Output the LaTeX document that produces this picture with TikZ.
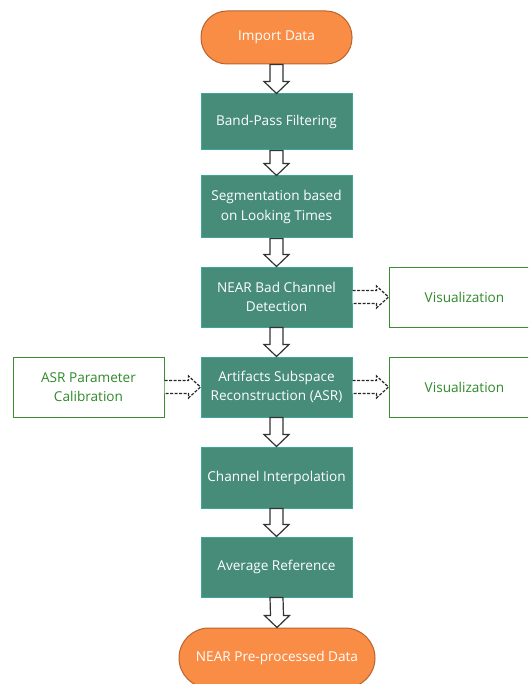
\documentclass[tikz,border=0pt]{standalone}
\usepackage{fontspec}
\setmainfont{Open Sans}
\usetikzlibrary{calc}
\definecolor{tealfill}{HTML}{468C79}
\definecolor{tealedge}{HTML}{3AA89C}
\definecolor{orfill}{HTML}{F98D45}
\definecolor{oredge}{HTML}{B8632E}
\definecolor{gtext}{HTML}{2F8A2A}
\definecolor{gedge}{HTML}{3C8C33}
\tikzset{
  stepbox/.style={draw=tealedge, line width=1pt, fill=tealfill, text=white, minimum width=151pt, minimum height=60pt, align=center, font=\fontsize{13.6}{19.5}\selectfont, inner sep=0pt},
  termbox/.style={draw=oredge, line width=1pt, fill=orfill, text=white, rounded corners=26pt, minimum height=53pt, align=center, font=\fontsize{13.6}{19.5}\selectfont, inner sep=0pt},
  sidebox/.style={draw=gedge, line width=1pt, fill=white, text=gtext, minimum width=151pt, minimum height=60pt, align=center, font=\fontsize{13.6}{19.5}\selectfont, inner sep=0pt},
  blockarrow/.style={draw=black!80, line width=1.2pt, fill=white, line join=miter},
  dasharrow/.style={draw=black!85, line width=1.2pt, fill=white, dashed, dash pattern=on 3pt off 1.5pt, line join=miter},
}
\newcommand\blockdown[2]{%
  \draw[blockarrow] ($(#1.south)+(-6.5,0)$) -- ($(#1.south)+(6.5,0)$) -- ($(#2.north)+(6.5,-12)$) -- ($(#2.north)+(12.5,-12)$) -- (#2.north) -- ($(#2.north)+(-12.5,-12)$) -- ($(#2.north)+(-6.5,-12)$) -- cycle;}
\newcommand\dashright[2]{%
  \draw[dasharrow] ($(#1.east)+(0,-6.5)$) -- ($(#2.west)+(-12,-6.5)$) -- ($(#2.west)+(-12,-11)$) -- (#2.west) -- ($(#2.west)+(-12,11)$) -- ($(#2.west)+(-12,6.5)$) -- ($(#1.east)+(0,6.5)$);}
\begin{document}
\begin{tikzpicture}[x=1pt,y=-1pt]
\useasboundingbox (0,0) rectangle (528,684);
\clip (0,0) rectangle (528,684);
\node[termbox, minimum width=151pt] (imp) at (276.5,37.5) {Import Data};
\node[stepbox, minimum height=56pt] (bp) at (276.5,122) {Band-Pass Filtering};
\node[stepbox, minimum height=62pt] (seg) at (276.5,207) {Segmentation based\\on Looking Times};
\node[stepbox] (near) at (276.5,297) {NEAR Bad Channel\\Detection};
\node[stepbox] (asr) at (276.5,387) {Artifacts Subspace\\Reconstruction (ASR)};
\node[stepbox, minimum height=61pt] (ci) at (276.5,477.5) {Channel Interpolation};
\node[stepbox] (avg) at (276.5,567) {Average Reference};
\node[termbox, minimum width=196pt, minimum height=60pt, rounded corners=30pt] (out) at (277,658) {NEAR Pre-processed Data};
\node[sidebox] (vis1) at (464.5,297) {Visualization};
\node[sidebox] (vis2) at (464.5,387) {Visualization};
\node[sidebox] (cal) at (88.5,387) {ASR Parameter\\Calibration};
\blockdown{imp}{bp}
\blockdown{bp}{seg}
\blockdown{seg}{near}
\blockdown{near}{asr}
\blockdown{asr}{ci}
\blockdown{ci}{avg}
\blockdown{avg}{out}
\dashright{near}{vis1}
\dashright{asr}{vis2}
\dashright{cal}{asr}
\end{tikzpicture}
\end{document}
